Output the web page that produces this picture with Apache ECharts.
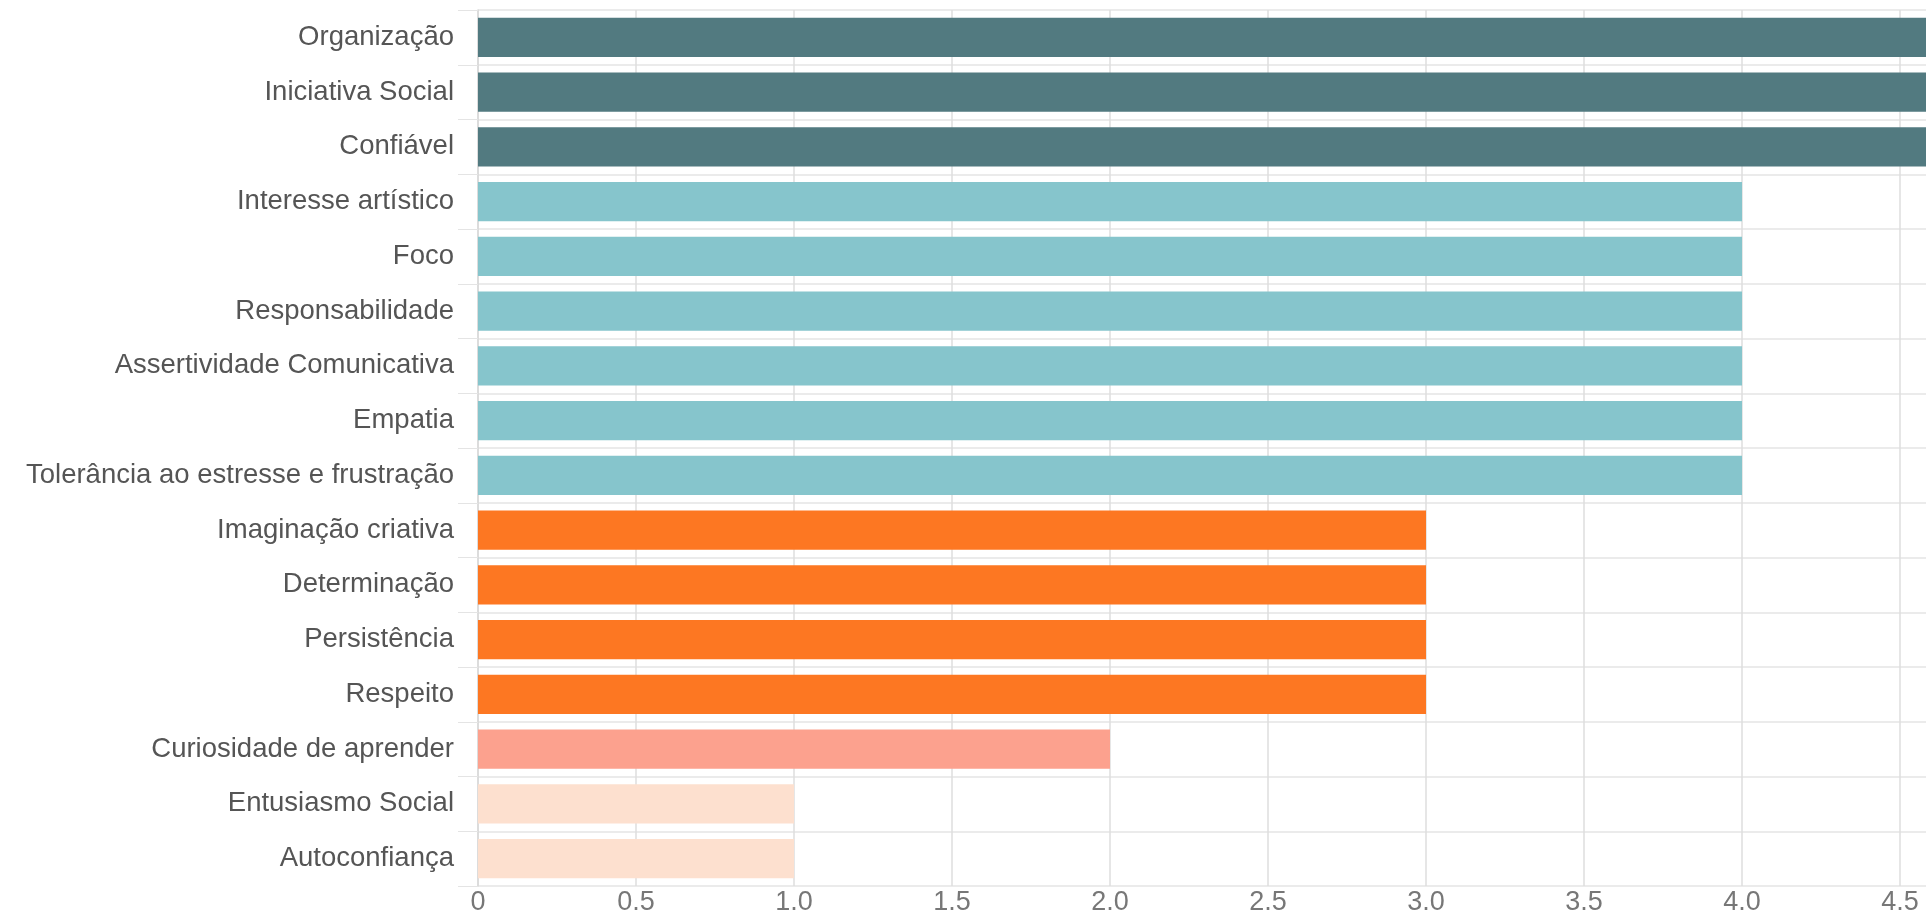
<!DOCTYPE html>
<html><head><meta charset="utf-8">
<script src="https://cdn.jsdelivr.net/npm/echarts@6/dist/echarts.min.js"></script>
<style>html,body{margin:0;padding:0;background:#fff}#c{width:1926px;height:914px}</style>
</head><body><div id="c"></div>
<script>
const categories = ["Organização","Iniciativa Social","Confiável","Interesse artístico","Foco","Responsabilidade","Assertividade Comunicativa","Empatia","Tolerância ao estresse e frustração","Imaginação criativa","Determinação","Persistência","Respeito","Curiosidade de aprender","Entusiasmo Social","Autoconfiança"];
const values = [5,5,5,4,4,4,4,4,4,3,3,3,3,2,1,1];
const barColors = ["#527a80","#527a80","#527a80","#86c5cc","#86c5cc","#86c5cc","#86c5cc","#86c5cc","#86c5cc","#fd7722","#fd7722","#fd7722","#fd7722","#fca18e","#fde0cf","#fde0cf"];
const xTicks = [0,0.5,1,1.5,2,2.5,3,3.5,4,4.5,5];

const chart = echarts.init(document.getElementById('c'));
chart.setOption({
  animation:false,
  grid:{left:478,width:1580,top:10,bottom:28,containLabel:false,outerBoundsMode:'none'},
  xAxis:{type:'value',min:0,max:5,interval:0.5,
    axisLine:{show:false},axisTick:{show:false},
    axisLabel:{color:'#777',fontSize:27,fontFamily:'Liberation Sans, Arial, sans-serif',margin:3,
      formatter:v=>v===0?'0':v.toFixed(1)},
    splitLine:{show:true,lineStyle:{color:'#dedede',width:1.5}}},
  yAxis:{type:'category',inverse:true,data:categories,
    axisLine:{show:true,lineStyle:{color:'#d8d8d8',width:1.5}},
    axisTick:{show:true,length:20,lineStyle:{color:'#e4e4e4'}},
    axisLabel:{color:'#555',fontSize:27.5,fontFamily:'Liberation Sans, Arial, sans-serif',margin:24},
    splitLine:{show:true,lineStyle:{color:'#e4e4e4',width:1.5}}},
  series:[{type:'bar',data:values.map((v,i)=>({value:v,itemStyle:{color:barColors[i]}})),
    barCategoryGap:'28%'}]
});
</script></body></html>
